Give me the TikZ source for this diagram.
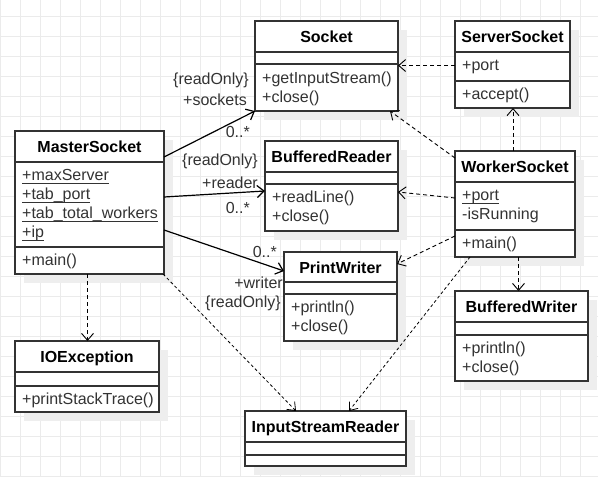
\documentclass[tikz,border=0pt]{standalone}
\usepackage{fontspec}
\setmainfont{Liberation Sans}
\usetikzlibrary{arrows.meta,calc}
\definecolor{gridc}{HTML}{EBEBEB}
\definecolor{shadowc}{HTML}{EEEEEE}
\definecolor{linec}{HTML}{333333}
\definecolor{txtc}{HTML}{333333}
\newcommand\umlclass[8]{%
  \fill[shadowc] (#2+9,#3+9) rectangle (#4+9,#5+9);
  \node[box, minimum width={#4pt-#2pt}, minimum height={#5pt-#3pt}] (#1) at (#2,#3) {};
  \draw[sepline] (#2,#7) -- (#4,#7);
  \draw[sepline] (#2,#8) -- (#4,#8);
  \node[title] (#1-t) at ({(#2+#4)/2},#3+21) {#6};
}
\newcommand\ulmember[2]{%
  \draw[txtc, line width=0.8pt] ($(#1.base west)+(0,#2)$) -- ($(#1.base east)+(0,#2)$);
}
\begin{document}
\begin{tikzpicture}[x=1pt,y=-1pt,
  box/.style={draw=linec, line width=1.4pt, fill=white, inner sep=0pt, outer sep=0pt, anchor=north west},
  sepline/.style={draw=linec, line width=1.4pt},
  title/.style={font=\fontsize{16}{19}\selectfont\bfseries, text=black, anchor=base, inner sep=0pt},
  member/.style={font=\fontsize{16}{19}\selectfont, text=txtc, anchor=base west, inner sep=0pt},
  lbl/.style={font=\fontsize{16}{19}\selectfont, text=txtc, anchor=base east, inner sep=0pt},
  assoc/.style={draw=black, line width=1.2pt, -{Straight Barb[length=7pt,width=12pt]}},
  dep/.style={draw=black, line width=0.9pt, dash pattern=on 4pt off 3pt, -{Straight Barb[length=7pt,width=12pt]}},
  depthin/.style={draw=black, line width=0.8pt, dash pattern=on 3pt off 2.5pt, -{Straight Barb[length=7pt,width=11pt]}},
]
\useasboundingbox (0,0) rectangle (598,477);
\fill[white] (0,0) rectangle (598,477);
\foreach \x in {0.7,20.7,...,598} \draw[gridc, line width=1pt] (\x,0) -- (\x,477);
\foreach \y in {16.7,36.7,...,477} \draw[gridc, line width=1pt] (0,\y) -- (598,\y);

% classes
\umlclass{ms}{15}{131}{164}{274}{MasterSocket}{162}{247}
\node[member] (ms-a1) at (22,180) {+maxServer}; \ulmember{ms-a1}{3}
\node[member] (ms-a2) at (22,199) {+tab\_port}; \ulmember{ms-a2}{3}
\node[member] (ms-a3) at (22,218) {+tab\_total\_workers}; \ulmember{ms-a3}{3}
\node[member] (ms-a4) at (22,237) {+ip}; \ulmember{ms-a4}{3}
\node[member] (ms-m1) at (22,265.5) {+main()};

\umlclass{so}{255}{21}{398}{111}{Socket}{52}{64}
\node[member] (so-m1) at (262,83) {+getInputStream()};
\node[member] (so-m2) at (262,102) {+close()};

\umlclass{ss}{455}{21}{570}{108}{ServerSocket}{52}{81}
\node[member] (ss-a1) at (462,70.5) {+port};
\node[member] (ss-m1) at (462,99.5) {+accept()};

\umlclass{br}{265}{141}{398}{231}{BufferedReader}{172}{184}
\node[member] (br-m1) at (272,202.5) {+readLine()};
\node[member] (br-m2) at (272,221.5) {+close()};

\umlclass{ws}{455}{151}{575}{257}{WorkerSocket}{182}{230}
\node[member] (ws-a1) at (462,200.5) {+port}; \ulmember{ws-a1}{3}
\node[member] (ws-a2) at (462,219.5) {-isRunning};
\node[member] (ws-m1) at (462,248.5) {+main()};

\umlclass{pw}{284}{252}{397}{341}{PrintWriter}{282}{294}
\node[member] (pw-m1) at (291,312.5) {+println()};
\node[member] (pw-m2) at (291,331.5) {+close()};

\umlclass{bw}{455}{291}{588}{381}{BufferedWriter}{322}{335}
\node[member] (bw-m1) at (462,353.5) {+println()};
\node[member] (bw-m2) at (462,372.5) {+close()};

\umlclass{ioe}{15}{341}{159}{412}{IOException}{372}{386}
\node[member] (ioe-m1) at (22,404.5) {+printStackTrace()};

\umlclass{isr}{245}{411}{406}{466}{InputStreamReader}{442}{455}

% associations
\draw[assoc] ($(ms.north east)+(0,26)$) -- (so.south west);
\draw[assoc] ($(ms.north east)+(0,66)$) -- ($(br.north west)+(0,50)$);
\draw[assoc] ($(ms.north east)+(0,99)$) -- ($(pw.north west)+(0,19)$);

\node[lbl] (l1a) at (249,84.6) {\{readOnly\}};
\node[lbl] (l1b) at (247,105) {+sockets};
\node[lbl] (l1c) at (250,137) {0..*};
\node[lbl] (l2a) at (258,165) {\{readOnly\}};
\node[lbl] (l2b) at (258,188) {+reader};
\node[lbl] (l2c) at (250,213) {0..*};
\node[lbl] (l3a) at (277,257) {0..*};
\node[lbl] (l3b) at (283,288) {+writer};
\node[lbl] (l3c) at (281,307) {\{readOnly\}};

% dependencies
\draw[dep] ($(ms.south -| ioe.north)+(0.5,0)$) -- ($(ioe.north)+(0.5,0)$);
\draw[depthin] ($(ms.south east)+(-1,0)$) -- ($(isr.north west)+(51,0)$);
\draw[dep] ($(ss.north west)+(0,44.5)$) -- ($(so.north east)+(0,44.5)$);
\draw[dep] ($(ws.north west)+(0,7)$) -- ($(so.south east)+(-8,0)$);
\draw[dep] ($(ws.north -| ss.south)+(0.5,0)$) -- ($(ss.south)+(0.5,0)$);
\draw[dep] ($(ws.north west)+(0,47)$) -- ($(br.north east)+(0,51)$);
\draw[dep] ($(ws.north west)+(0,85)$) -- ($(pw.north east)+(0,12)$);
\draw[dep] ($(ws.south)+(3.5,0)$) -- ($(bw.north west)+(63.5,0)$);
\draw[depthin] ($(ws.south west)+(15,0)$) -- ($(isr.north west)+(104,0)$);
\end{tikzpicture}
\end{document}
